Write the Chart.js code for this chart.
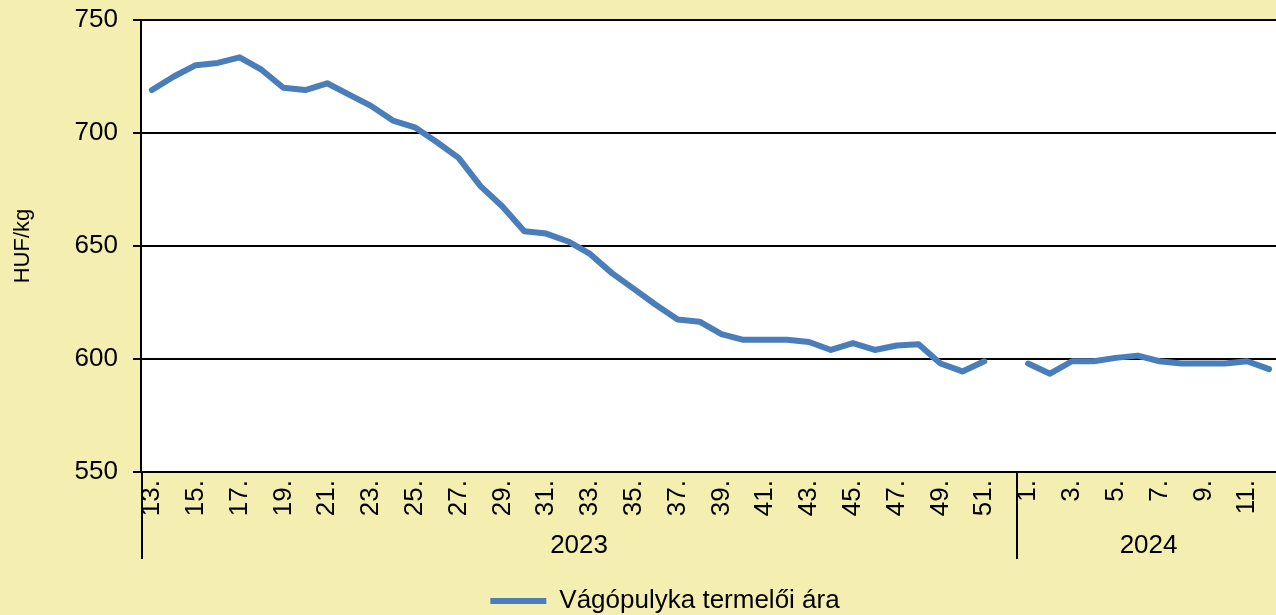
<!DOCTYPE html>
<html lang="hu">
<head>
<meta charset="utf-8">
<title>Vágópulyka termelői ára</title>
<script src="https://cdn.jsdelivr.net/npm/chart.js@4"></script>
<style>
  html, body { margin: 0; padding: 0; background: #F4EEB1; overflow: hidden; }
  #wrap { width: 1276px; height: 615px; overflow: hidden; }
  canvas { display: block; }
</style>
</head>
<body>
<div id="wrap">
  <canvas id="chart" width="1280" height="624"></canvas>
</div>
<script>
// hetek (2023: 13-52., 2024: 1-12.)
const weeks2023 = [13, 14, 15, 16, 17, 18, 19, 20, 21, 22, 23, 24, 25, 26, 27, 28, 29, 30, 31, 32,
  33, 34, 35, 36, 37, 38, 39, 40, 41, 42, 43, 44, 45, 46, 47, 48, 49, 50, 51, 52];
const weeks2024 = [1, 2, 3, 4, 5, 6, 7, 8, 9, 10, 11, 12];
const years = ["2023", "2024"];

// termelői ár, HUF/kg
const prices2023 = [719, 725, 730, 731, 733.5, 728, 720, 719, 722, 717, 712, 705.5, 702.5, 696, 689,
  676.5, 667.5, 656.5, 655.5, 652, 646.5, 638, 631, 624, 617.5, 616.5, 611, 608.5, 608.5, 608.5,
  607.5, 604, 607, 604, 606, 606.5, 598, 594.5, 599, null];
const prices2024 = [598, 593.5, 599, 599, 600.5, 601.5, 599, 598, 598, 598, 599, 595.5];

const yTicks = [550, 600, 650, 700, 750];
const seriesName = "Vágópulyka termelői ára";
const yTitle = "HUF/kg";

const FONT = "'Liberation Sans', Arial, sans-serif";
const BG = "#F4EEB1";
const LINE = "#4A7EBB";

const weekLabels = weeks2023.concat(weeks2024).map((w) => w + ".");
const weekNums = weeks2023.concat(weeks2024);
const groupSizes = [weeks2023.length, weeks2024.length];

// háttér: sárga vászon, fehér rajzterület
const backgroundPlugin = {
  id: "background",
  beforeDraw(chart) {
    const { ctx, chartArea } = chart;
    ctx.save();
    ctx.fillStyle = BG;
    ctx.fillRect(0, 0, chart.width, chart.height);
    ctx.fillStyle = "#FFFFFF";
    ctx.fillRect(chartArea.left, chartArea.top, chartArea.right - chartArea.left, chartArea.bottom - chartArea.top);
    ctx.restore();
  },
  // a jelmagyarázat kicsit jobbra tolva, mint az eredetin
  afterLayout(chart) {
    chart.legend.left += 25;
    chart.legend.right += 25;
  },
};

// évek szerinti csoportcímkék és elválasztók az x tengely alatt
const yearGroupPlugin = {
  id: "yearGroups",
  afterDraw(chart) {
    const { ctx, chartArea } = chart;
    const x = chart.scales.x;
    const lineBottom = x.bottom - 1;
    ctx.save();
    ctx.strokeStyle = "#000";
    ctx.lineWidth = 2;
    ctx.fillStyle = "#000";
    ctx.font = "26px " + FONT;
    ctx.textAlign = "center";
    ctx.textBaseline = "middle";

    let start = 0;
    let leftPx = x.left;
    ctx.beginPath();
    ctx.moveTo(Math.round(x.left) + 1, chartArea.bottom);
    ctx.lineTo(Math.round(x.left) + 1, lineBottom);
    ctx.stroke();

    groupSizes.forEach((size, g) => {
      const end = start + size;
      let rightPx;
      if (end < weekLabels.length) {
        rightPx = (x.getPixelForValue(end - 1) + x.getPixelForValue(end)) / 2;
        ctx.beginPath();
        ctx.moveTo(Math.round(rightPx), chartArea.bottom);
        ctx.lineTo(Math.round(rightPx), lineBottom);
        ctx.stroke();
      } else {
        rightPx = x.right;
      }
      ctx.fillText(years[g], (leftPx + rightPx) / 2, lineBottom - 13);
      leftPx = rightPx;
      start = end;
    });
    ctx.restore();
  },
};

const ctx = document.getElementById("chart").getContext("2d");

new Chart(ctx, {
  type: "line",
  data: {
    labels: weekLabels,
    datasets: [
      {
        label: seriesName,
        data: prices2023.concat(prices2024),
        borderColor: LINE,
        backgroundColor: LINE,
        borderWidth: 6,
        pointRadius: 0,
        tension: 0,
        spanGaps: false,
        borderJoinStyle: "round",
        borderCapStyle: "round",
      },
    ],
  },
  options: {
    responsive: false,
    animation: false,
    layout: { padding: { top: 20, left: 0, right: 0, bottom: 0 } },
    scales: {
      x: {
        type: "category",
        offset: true,
        grid: { display: false, drawTicks: false },
        border: { display: true, color: "#000", width: 2 },
        ticks: {
          autoSkip: false,
          maxRotation: 90,
          minRotation: 90,
          padding: 8,
          color: "#000",
          font: { family: FONT, size: 26 },
          callback: function (value, index) {
            return weekNums[index] % 2 === 1 ? weekLabels[index] : "";
          },
        },
        afterFit(scale) {
          scale.height = 88;
          scale.paddingLeft = 0;
          scale.paddingRight = 0;
        },
      },
      y: {
        min: 550,
        max: 750,
        afterBuildTicks(scale) {
          scale.ticks = yTicks.map((v) => ({ value: v }));
        },
        grid: { color: "#000", lineWidth: 2, tickLength: 8, drawTicks: true },
        border: { display: true, color: "#000", width: 2 },
        ticks: {
          padding: 15,
          color: "#000",
          font: { family: FONT, size: 26 },
        },
        title: {
          display: true,
          text: yTitle,
          color: "#000",
          font: { family: FONT, size: 22 },
          padding: { top: 10, bottom: 0 },
        },
        afterFit(scale) {
          scale.width = 141;
          scale.paddingTop = 0;
          scale.paddingBottom = 0;
        },
      },
    },
    plugins: {
      legend: {
        position: "bottom",
        labels: {
          padding: 28,
          boxWidth: 56,
          boxHeight: 6,
          color: "#000",
          font: { family: FONT, size: 26 },
          generateLabels(chart) {
            return chart.data.datasets.map((ds, i) => ({
              text: ds.label,
              fillStyle: ds.borderColor,
              strokeStyle: ds.borderColor,
              lineWidth: 0,
              fontColor: "#000",
              datasetIndex: i,
            }));
          },
        },
      },
      tooltip: { enabled: false },
    },
  },
  plugins: [backgroundPlugin, yearGroupPlugin],
});
</script>
</body>
</html>
